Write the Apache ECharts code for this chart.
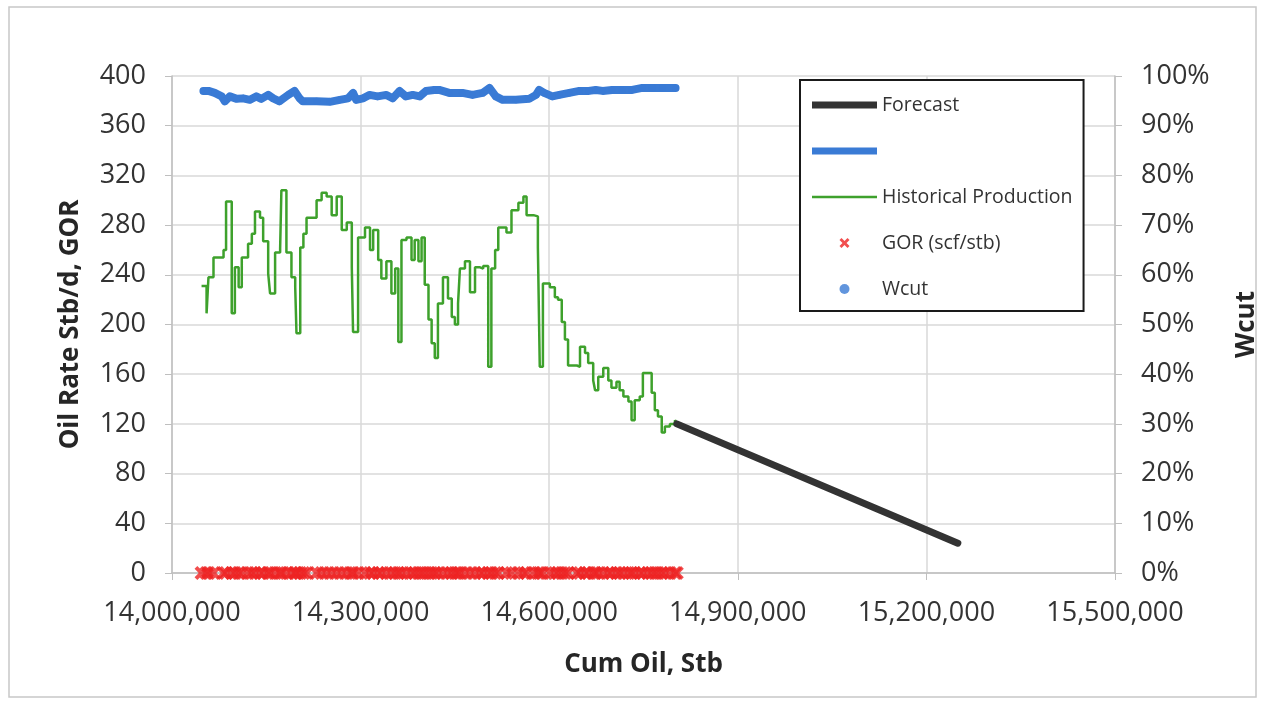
<!DOCTYPE html>
<html>
<head>
<meta charset="utf-8">
<script src="https://cdn.jsdelivr.net/npm/echarts@6/dist/echarts.min.js"></script>
<style>
  html, body { margin: 0; padding: 0; background: #fff; }
  #chart { width: 1265px; height: 704px; }
</style>
</head>
<body>
<div id="chart"></div>
<script>
// historical production, step line: [cum oil Stb, oil rate stb/d]
const histCum = [
  14047000, 14055000, 14058000, 14066000, 14082000, 14086000, 14095000, 14100000, 14106000, 14111000,
  14121000, 14127000, 14132000, 14140000, 14145000, 14153000, 14156000, 14164000, 14172000, 14174000,
  14182000, 14190000, 14196000, 14198000, 14204000, 14209000, 14214000, 14230000, 14238000, 14246000,
  14254000, 14262000, 14270000, 14278000, 14286000, 14288000, 14296000, 14307000, 14315000, 14320000,
  14328000, 14333000, 14341000, 14349000, 14355000, 14360000, 14365000, 14373000, 14381000, 14386000,
  14392000, 14397000, 14402000, 14408000, 14413000, 14418000, 14423000, 14431000, 14439000, 14445000,
  14450000, 14455000, 14458000, 14466000, 14474000, 14482000, 14490000, 14495000, 14503000, 14508000,
  14514000, 14519000, 14532000, 14540000, 14551000, 14559000, 14564000, 14575000, 14582000, 14585000,
  14590000, 14601000, 14609000, 14614000, 14620000, 14625000, 14630000, 14644000, 14649000, 14657000,
  14662000, 14670000, 14673000, 14678000, 14686000, 14694000, 14699000, 14707000, 14712000, 14718000,
  14726000, 14731000, 14736000, 14744000, 14749000, 14757000, 14763000, 14768000, 14773000, 14779000,
  14784000, 14792000, 14800000, 14803000
];
const histRate = [
  231, 209, 238, 254, 260, 299, 209, 246, 230, 254,
  265, 273, 291, 286, 267, 241, 225, 258, 261, 308,
  258, 238, 230, 193, 262, 273, 286, 300, 306, 303,
  288, 303, 276, 282, 246, 194, 270, 278, 260, 276,
  252, 237, 251, 225, 245, 186, 268, 270, 252, 268,
  251, 270, 232, 204, 185, 173, 217, 238, 221, 206,
  200, 217, 245, 251, 226, 246, 245, 247, 166, 245,
  260, 278, 274, 292, 298, 303, 288, 287, 262, 166,
  233, 230, 222, 220, 202, 188, 167, 166, 182, 177,
  169, 155, 147, 158, 165, 155, 149, 154, 147, 142,
  138, 123, 139, 142, 161, 161, 145, 131, 126, 113,
  118, 120, 123, 120
];
// GOR (scf/stb), plotted at the historical points
const gorRate = [
  0, 0, 0, 0, 0, 0, 0, 0, 0, 0, 0, 0, 0, 0, 0, 0, 0, 0, 0, 0,
  0, 0, 0, 0, 0, 0, 0, 0, 0, 0, 0, 0, 0, 0, 0, 0, 0, 0, 0, 0,
  0, 0, 0, 0, 0, 0, 0, 0, 0, 0, 0, 0, 0, 0, 0, 0, 0, 0, 0, 0,
  0, 0, 0, 0, 0, 0, 0, 0, 0, 0, 0, 0, 0, 0, 0, 0, 0, 0, 0, 0,
  0, 0, 0, 0, 0, 0, 0, 0, 0, 0, 0, 0, 0, 0, 0, 0, 0, 0, 0, 0,
  0, 0, 0, 0, 0, 0, 0, 0, 0, 0, 0, 0, 0, 0
];
// water cut, %
const wcutCum = [
  14050000, 14058000, 14068000, 14079000, 14084000, 14092000, 14103000, 14113000, 14124000, 14134000,
  14142000, 14153000, 14161000, 14171000, 14185000, 14195000, 14203000, 14208000, 14230000, 14251000,
  14267000, 14280000, 14288000, 14293000, 14304000, 14314000, 14327000, 14341000, 14351000, 14362000,
  14372000, 14383000, 14394000, 14404000, 14417000, 14425000, 14441000, 14462000, 14478000, 14494000,
  14505000, 14515000, 14526000, 14547000, 14568000, 14579000, 14584000, 14592000, 14605000, 14616000,
  14632000, 14648000, 14663000, 14674000, 14685000, 14700000, 14716000, 14732000, 14748000, 14764000,
  14780000, 14801000
];
const wcutPct = [
  97.0, 97.0, 96.6, 95.9, 94.9, 95.9, 95.4, 95.5, 95.2, 95.9,
  95.4, 96.2, 95.5, 94.9, 96.2, 97.0, 95.5, 94.9, 94.9, 94.8,
  95.2, 95.5, 96.6, 95.2, 95.5, 96.2, 95.9, 96.2, 95.5, 97.0,
  95.9, 96.2, 95.9, 97.0, 97.2, 97.2, 96.6, 96.6, 96.2, 96.6,
  97.6, 95.9, 95.2, 95.2, 95.4, 96.2, 97.2, 96.6, 95.9, 96.2,
  96.6, 97.0, 97.0, 97.2, 97.0, 97.2, 97.2, 97.2, 97.6, 97.6,
  97.6, 97.6
];
// forecast line
const forecastCum = [14803000, 15250000];
const forecastRate = [120, 24];

const xTicks = [14000000, 14300000, 14600000, 14900000, 15200000, 15500000];

const pairs = (xs, ys) => xs.map((x, i) => [x, ys[i]]);

const font = 'Open Sans';
const txt = '#333333';
const axisGray = '#bfbfbf';
const gridGray = '#d9d9d9';
const crossPath = 'path://M0,2 L2,0 L5,3 L8,0 L10,2 L7,5 L10,8 L8,10 L5,7 L2,10 L0,8 L3,5 Z';
const bar = h => 'path://M0,0 L65,0 L65,' + h + ' L0,' + h + ' Z';

const chart = echarts.init(document.getElementById('chart'));
chart.setOption({
  backgroundColor: '#fff',
  animation: false,
  graphic: [{
    type: 'rect',
    shape: { x: 9, y: 7, width: 1247, height: 690 },
    style: { fill: 'none', stroke: '#c8c8c8', lineWidth: 1.5 },
    silent: true
  }],
  grid: {
    left: 172, right: 150, top: 76, bottom: 131,
    outerBoundsMode: 'none'
  },
  legend: {
    orient: 'vertical',
    left: 800, top: 80,
    padding: [15, 11, 12, 12],
    itemGap: 26,
    itemWidth: 65,
    itemHeight: 10,
    symbolKeepAspect: true,
    backgroundColor: '#fff',
    borderColor: '#1a1a1a',
    borderWidth: 2,
    textStyle: { fontFamily: font, fontSize: 19.5, color: txt },
    data: [
      { name: 'Forecast', icon: bar(7), itemStyle: { color: '#333333' } },
      { name: ' ', icon: bar(7), itemStyle: { color: '#3a7bd5' } },
      { name: 'Historical Production', icon: bar(2.5), itemStyle: { color: '#3ea12c' } },
      { name: 'GOR (scf/stb)', icon: crossPath, itemStyle: { color: '#ee2222' } },
      { name: 'Wcut', icon: 'circle', itemStyle: { color: '#3a7bd5' } }
    ]
  },
  xAxis: {
    type: 'value',
    min: xTicks[0],
    max: xTicks[xTicks.length - 1],
    interval: 300000,
    name: 'Cum Oil, Stb',
    nameLocation: 'middle',
    nameGap: 79,
    nameMoveOverlap: false,
    nameTextStyle: { fontFamily: font, fontSize: 26, fontWeight: 'bold', color: '#262626' },
    axisLine: { show: true, lineStyle: { color: axisGray, width: 1.5 } },
    axisTick: { show: true, inside: false, length: 7, lineStyle: { color: axisGray } },
    axisLabel: {
      margin: 27,
      fontFamily: font, fontSize: 27, color: txt,
      formatter: v => v.toLocaleString('en-US')
    },
    splitLine: { show: true, lineStyle: { color: gridGray, width: 1.5 } }
  },
  yAxis: [{
    type: 'value',
    min: 0, max: 400, interval: 40,
    name: 'Oil Rate Stb/d, GOR',
    nameLocation: 'middle',
    nameRotate: 90,
    nameGap: 88,
    nameMoveOverlap: false,
    nameTextStyle: { fontFamily: font, fontSize: 26, fontWeight: 'bold', color: '#262626' },
    axisLine: { show: true, lineStyle: { color: axisGray, width: 1.5 } },
    axisTick: { show: true, inside: false, length: 7, lineStyle: { color: axisGray } },
    axisLabel: { margin: 26, fontFamily: font, fontSize: 27, color: txt },
    splitLine: { show: true, lineStyle: { color: gridGray, width: 1.5 } }
  }, {
    type: 'value',
    min: 0, max: 100, interval: 10,
    position: 'right',
    name: 'Wcut',
    nameLocation: 'middle',
    nameRotate: 90,
    nameGap: 119,
    nameMoveOverlap: false,
    nameTextStyle: { fontFamily: font, fontSize: 26, fontWeight: 'bold', color: '#262626' },
    axisLine: { show: true, lineStyle: { color: axisGray, width: 1.5 } },
    axisTick: { show: true, inside: false, length: 7, lineStyle: { color: axisGray } },
    axisLabel: { margin: 26, fontFamily: font, fontSize: 27, color: txt, formatter: '{value}%' },
    splitLine: { show: false }
  }],
  series: [{
    name: 'GOR (scf/stb)',
    type: 'scatter',
    data: pairs(histCum, gorRate),
    symbol: crossPath,
    symbolSize: 14,
    itemStyle: { color: '#ee2222' },
    z: 3
  }, {
    name: ' ',
    type: 'line',
    yAxisIndex: 1,
    data: pairs(wcutCum, wcutPct),
    symbol: 'none',
    lineStyle: { color: '#3a7bd5', width: 8, cap: 'round', join: 'round' },
    itemStyle: { color: '#3a7bd5' },
    z: 3
  }, {
    name: 'Wcut',
    type: 'scatter',
    yAxisIndex: 1,
    data: pairs(wcutCum, wcutPct),
    symbolSize: 7,
    itemStyle: { color: '#3a7bd5' },
    z: 4
  }, {
    name: 'Historical Production',
    type: 'line',
    step: 'end',
    data: pairs(histCum, histRate),
    symbol: 'none',
    lineStyle: { color: '#3ea12c', width: 2.5 },
    itemStyle: { color: '#3ea12c' },
    z: 5
  }, {
    name: 'Forecast',
    type: 'line',
    data: pairs(forecastCum, forecastRate),
    symbol: 'none',
    lineStyle: { color: '#333333', width: 7, cap: 'round' },
    itemStyle: { color: '#333333' },
    z: 6
  }]
});
</script>
</body>
</html>
